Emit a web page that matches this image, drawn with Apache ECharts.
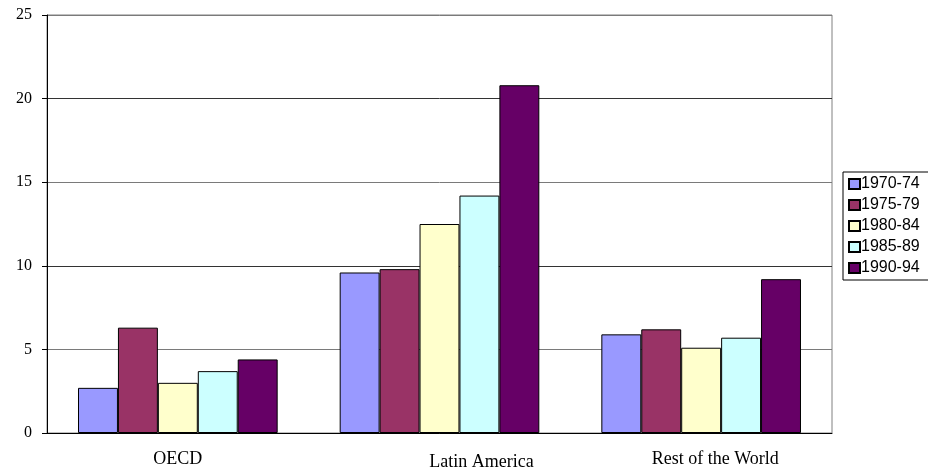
<!DOCTYPE html>
<html lang="en">
<head>
    <meta charset="utf-8">
    <title>Bars by region</title>
    <script src="https://cdn.jsdelivr.net/npm/echarts@6/dist/echarts.min.js"></script>
</head>
<body style="margin:0;background:#fff;">

    <div id="main" style="width:928px;height:472px;"></div>

<script type="text/javascript">

    var regions = ['OECD', 'Latin America', 'Rest of the World'];
    var periods = ['1970-74', '1975-79', '1980-84', '1985-89', '1990-94'];
    var colors = ['#9999ff', '#993366', '#ffffcc', '#ccffff', '#660066'];

    // one array per period, in region order
    var v1970 = [2.7, 9.6, 5.9];
    var v1975 = [6.3, 9.8, 6.2];
    var v1980 = [3.0, 12.5, 5.1];
    var v1985 = [3.7, 14.2, 5.7];
    var v1990 = [4.4, 20.8, 9.2];
    var values = [v1970, v1975, v1980, v1985, v1990];

    var yTicks = { min: 0, max: 25, interval: 5 };

    var myChart = echarts.init(document.getElementById('main'));

    var series = [];
    for (var i = 0; i < periods.length; i++) {
        series.push({
            name: periods[i],
            type: 'bar',
            data: values[i],
            barGap: '0%',
            barCategoryGap: '23.7%',
            itemStyle: {
                color: colors[i],
                borderColor: '#000',
                borderWidth: 1
            }
        });
    }

    var option = {
        backgroundColor: '#ffffff',
        animation: false,
        grid: {
            left: 47,
            right: 96,
            top: 15,
            bottom: 39,
            show: true,
            borderColor: '#808080',
            borderWidth: 1
        },
        legend: {
            data: periods,
            orient: 'vertical',
            left: 843,
            top: 172,
            icon: 'rect',
            itemWidth: 11,
            itemHeight: 10,
            itemGap: 5,
            padding: [4, 40, 4, 5],
            borderColor: '#000',
            borderWidth: 1,
            textStyle: {
                fontFamily: 'Liberation Sans',
                fontSize: 16,
                color: '#000',
                padding: [0, 0, 0, -4]
            }
        },
        xAxis: {
            type: 'category',
            data: regions,
            axisLine: { lineStyle: { color: '#000', width: 1 } },
            axisTick: { length: 6, lineStyle: { color: '#000' } },
            axisLabel: {
                margin: 17,
                color: '#000',
                fontFamily: 'Liberation Serif',
                fontSize: 18,
                formatter: function (value, idx) {
                    return ['{a|', '{b|', '{c|'][idx] + value + '}';
                },
                rich: {
                    a: { fontFamily: 'Liberation Serif', fontSize: 18, color: '#000', padding: [0, 0, 0, 0] },
                    b: { fontFamily: 'Liberation Serif', fontSize: 18, color: '#000', padding: [3, 0, 0, 84] },
                    c: { fontFamily: 'Liberation Serif', fontSize: 18, color: '#000', padding: [0, 0, 0, 28] }
                }
            }
        },
        yAxis: {
            type: 'value',
            min: yTicks.min,
            max: yTicks.max,
            interval: yTicks.interval,
            axisLine: { show: true, lineStyle: { color: '#000', width: 1 } },
            axisTick: { show: true, length: 5, lineStyle: { color: '#000' } },
            axisLabel: {
                margin: 15,
                color: '#000',
                fontFamily: 'Liberation Serif',
                fontSize: 16
            },
            splitLine: {
                lineStyle: { color: ['#333333', '#7a7a7a'], width: 1 }
            }
        },
        series: series
    };

    myChart.setOption(option);

</script>

</body>
</html>
